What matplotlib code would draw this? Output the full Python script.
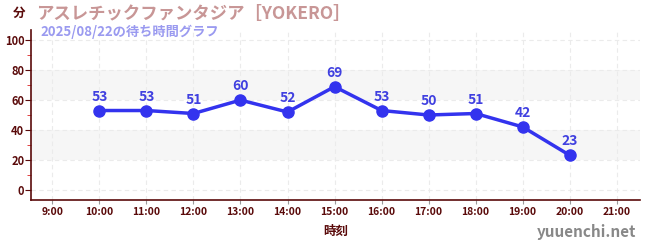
import matplotlib
matplotlib.use('Agg')
import matplotlib.pyplot as plt
from matplotlib.ticker import MultipleLocator

plt.rcParams['font.family'] = ['Noto Sans CJK JP', 'DejaVu Sans']

# data
hours = [10, 11, 12, 13, 14, 15, 16, 17, 18, 19, 20]
waits = [53, 53, 51, 60, 52, 69, 53, 50, 51, 42, 23]
tick_hours = list(range(9, 22))
tick_labels = [str(h) + ':00' for h in tick_hours]
title = 'アスレチックファンタジア［YOKERO］'
subtitle = '2025/08/22の待ち時間グラフ'

axis_color = '#5a0a0a'
line_color = '#3333ee'

fig = plt.figure(figsize=(6.5, 2.5), dpi=100)
fig.patch.set_facecolor('white')
ax = fig.add_axes([0.048, 0.2, 0.937, 0.68])

# background bands
for lo, hi in [(20, 40), (60, 80)]:
    ax.axhspan(lo, hi, color='#f6f6f6', zorder=0, lw=0)

ax.plot(hours, waits, color=line_color, lw=2.5, marker='o', ms=8, zorder=3)
for h, w in zip(hours, waits):
    ax.annotate(str(w), (h, w), xytext=(0, 5), textcoords='offset points',
                ha='center', va='bottom', fontsize=10, fontweight='bold',
                color='#4040e0', zorder=4)

ax.set_xlim(8.55, 21.5)
ax.set_ylim(-7, 107)
ax.set_xticks(tick_hours)
ax.set_xticklabels(tick_labels, fontweight='bold')
ax.yaxis.set_major_locator(MultipleLocator(20))
ax.yaxis.set_minor_locator(MultipleLocator(10))
ax.grid(True, which='major', color='#ebebeb', lw=0.8, linestyle=(0, (4, 3)), zorder=1)

for s in ['top', 'right']:
    ax.spines[s].set_visible(False)
for s in ['left', 'bottom']:
    ax.spines[s].set_color(axis_color)
    ax.spines[s].set_linewidth(1.2)
ax.tick_params(axis='x', which='major', colors='#999999', labelcolor=axis_color,
               labelsize=7.5, length=3, pad=2)
ax.tick_params(axis='y', which='major', colors=axis_color, labelsize=8, length=4, pad=1)
ax.tick_params(axis='y', which='minor', colors='#dd2222', length=3)
for lbl in ax.get_yticklabels():
    lbl.set_fontweight('bold')

ax.set_xlabel('時刻', fontsize=9, color=axis_color, fontweight='bold', labelpad=6)

fig.text(0.02, 0.945, '分', fontsize=9, fontweight='bold', color=axis_color, ha='left', va='center')
fig.text(0.055, 0.945, title, fontsize=12.5, fontweight='bold', color='#c89696', ha='left', va='center')
fig.text(0.062, 0.872, subtitle, fontsize=9.5, fontweight='bold', color='#9a9af0', ha='left', va='center')
fig.text(0.978, 0.07, 'yuuenchi.net', fontsize=11, fontweight='bold', color='#888888', ha='right', va='center')

plt.savefig('out.png', dpi=100)
